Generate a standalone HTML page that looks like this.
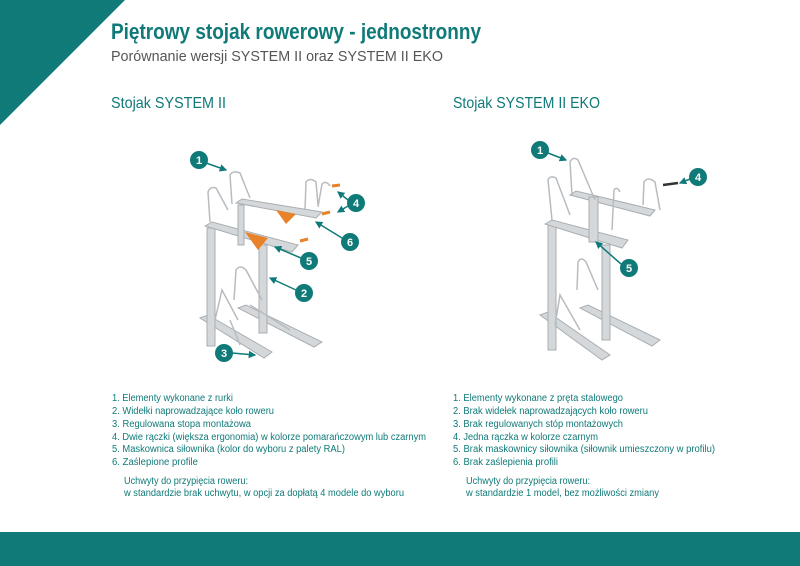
<!DOCTYPE html>
<html><head><meta charset="utf-8"><style>
html,body{margin:0;padding:0;background:#fff;width:800px;height:566px;overflow:hidden}
svg{display:block}
text{font-family:"Liberation Sans Narrow","Liberation Sans",sans-serif}
</style></head><body>
<svg width="800" height="566" viewBox="0 0 800 566" xmlns="http://www.w3.org/2000/svg">
<defs>
<marker id="a" viewBox="0 0 6 6" refX="5" refY="3" markerWidth="5" markerHeight="5" orient="auto"><path d="M0,0 L6,3 L0,6 z" fill="#0f7a78"/></marker>
</defs>
<polygon points="0,0 125,0 0,125" fill="#0f7a78"/>
<rect x="0" y="532" width="800" height="34" fill="#0f7a78"/>

<text x="111" y="39" font-size="22" font-weight="bold" fill="#0f7a78" textLength="370" lengthAdjust="spacingAndGlyphs">Piętrowy stojak rowerowy - jednostronny</text>
<text x="111" y="61" font-size="15" fill="#555" textLength="332" lengthAdjust="spacingAndGlyphs">Porównanie wersji SYSTEM II oraz SYSTEM II EKO</text>
<text x="111" y="108" font-size="16" fill="#0f7a78" textLength="115" lengthAdjust="spacingAndGlyphs">Stojak SYSTEM II</text>
<text x="453" y="108" font-size="16" fill="#0f7a78" textLength="147" lengthAdjust="spacingAndGlyphs">Stojak SYSTEM II EKO</text>

<!-- Left rack -->
<g stroke="#a9aeb2" fill="#d4d8db" stroke-width="1">
  <polygon points="200,318 208,315 272,352 264,358"/>
  <polygon points="238,308 246,305 322,342 314,347"/>
  <rect x="207" y="228" width="8" height="118"/>
  <rect x="259" y="245" width="8" height="88"/>
  <polygon points="205,226 212,222 298,245 292,252"/>
  <polygon points="236,203 242,199 322,212 316,218"/>
  <rect x="238" y="205" width="6" height="40"/>
</g>
<g stroke="#b8bcc0" fill="none" stroke-width="1.5">
  <path d="M210,222 L208,192 Q210,186 216,188 L228,210"/>
  <path d="M232,204 L230,175 Q233,170 240,173 L250,198"/>
  <path d="M305,210 L306,182 Q310,177 316,182 L318,205"/>
  <path d="M318,207 L322,184 Q326,180 330,186"/>
  <path d="M234,300 L236,270 Q240,264 246,270 L262,300"/>
  <path d="M215,320 L222,290 L238,320"/>
  <path d="M230,320 L240,345 M250,305 L290,330"/>
</g>
<polygon points="245,232 268,238 258,250" fill="#e8822a"/>
<polygon points="276,210 296,214 286,224" fill="#e8822a"/>
<g stroke="#e8822a" stroke-width="3"><line x1="300" y1="241" x2="308" y2="239"/><line x1="322" y1="214" x2="330" y2="212"/><line x1="332" y1="186" x2="340" y2="185"/></g>

<!-- Right rack -->
<g stroke="#a9aeb2" fill="#d4d8db" stroke-width="1">
  <polygon points="540,315 548,312 610,355 602,360"/>
  <polygon points="580,308 588,305 660,340 652,346"/>
  <rect x="548" y="225" width="8" height="125"/>
  <rect x="602" y="245" width="8" height="95"/>
  <polygon points="545,224 552,220 628,240 622,248"/>
  <polygon points="570,195 576,191 655,210 650,216"/>
  <rect x="589" y="197" width="9" height="45"/>
</g>
<g stroke="#b8bcc0" fill="none" stroke-width="1.5">
  <path d="M552,220 L548,180 Q550,175 556,178 L570,215"/>
  <path d="M572,195 L570,162 Q573,156 578,160 L595,200"/>
  <path d="M643,205 L644,182 Q648,176 655,182 L660,210"/>
  <path d="M612,230 L614,190 Q617,186 620,192"/>
  <path d="M577,290 L578,262 Q581,256 586,262 L598,290"/>
  <path d="M555,325 L560,295 L580,330"/>
</g>
<line x1="663" y1="185" x2="678" y2="183" stroke="#333" stroke-width="2.5"/>

<!-- callouts -->
<g stroke="#0f7a78" stroke-width="1.5" fill="none" marker-end="url(#a)">
  <line x1="206" y1="163" x2="226" y2="170"/>
  <line x1="296" y1="290" x2="270" y2="278"/>
  <line x1="232" y1="353" x2="255" y2="355"/>
  <line x1="348" y1="200" x2="338" y2="192"/><line x1="348" y1="206" x2="338" y2="212"/>
  <line x1="301" y1="258" x2="275" y2="247"/>
  <line x1="342" y1="238" x2="316" y2="222"/>
  <line x1="548" y1="153" x2="566" y2="160"/>
  <line x1="690" y1="179" x2="680" y2="183"/>
  <line x1="621" y1="264" x2="596" y2="242"/>
</g>
<g fill="#0f7a78">
  <circle cx="199" cy="160" r="9"/><circle cx="304" cy="293" r="9"/><circle cx="224" cy="353" r="9"/>
  <circle cx="356" cy="203" r="9"/><circle cx="309" cy="261" r="9"/><circle cx="350" cy="242" r="9"/>
  <circle cx="540" cy="150" r="9"/><circle cx="698" cy="177" r="9"/><circle cx="629" cy="268" r="9"/>
</g>
<g fill="#fff" font-size="11" font-weight="bold" text-anchor="middle">
  <text x="199" y="164">1</text><text x="304" y="297">2</text><text x="224" y="357">3</text>
  <text x="356" y="207">4</text><text x="309" y="265">5</text><text x="350" y="246">6</text>
  <text x="540" y="154">1</text><text x="698" y="181">4</text><text x="629" y="272">5</text>
</g>

<!-- lists -->
<g fill="#0f7a78" font-size="10">
  <text x="112" y="401" textLength="121" lengthAdjust="spacingAndGlyphs">1.  Elementy wykonane z rurki</text>
  <text x="112" y="414" textLength="162" lengthAdjust="spacingAndGlyphs">2.  Widełki naprowadzające koło roweru</text>
  <text x="112" y="427" textLength="139" lengthAdjust="spacingAndGlyphs">3.  Regulowana stopa montażowa</text>
  <text x="112" y="440" textLength="314" lengthAdjust="spacingAndGlyphs">4.  Dwie rączki (większa ergonomia) w kolorze pomarańczowym lub czarnym</text>
  <text x="112" y="452" textLength="233" lengthAdjust="spacingAndGlyphs">5.  Maskownica siłownika (kolor do wyboru z palety RAL)</text>
  <text x="112" y="465" textLength="86" lengthAdjust="spacingAndGlyphs">6.  Zaślepione profile</text>
  <text x="124" y="484" textLength="124" lengthAdjust="spacingAndGlyphs">Uchwyty do przypięcia roweru:</text>
  <text x="124" y="496" textLength="280" lengthAdjust="spacingAndGlyphs">w standardzie brak uchwytu, w opcji za dopłatą 4 modele do wyboru</text>

  <text x="453" y="401" textLength="170" lengthAdjust="spacingAndGlyphs">1.  Elementy wykonane z pręta stalowego</text>
  <text x="453" y="414" textLength="195" lengthAdjust="spacingAndGlyphs">2.  Brak widełek naprowadzających koło roweru</text>
  <text x="453" y="427" textLength="170" lengthAdjust="spacingAndGlyphs">3.  Brak regulowanych stóp montażowych</text>
  <text x="453" y="440" textLength="145" lengthAdjust="spacingAndGlyphs">4.  Jedna rączka w kolorze czarnym</text>
  <text x="453" y="452" textLength="262" lengthAdjust="spacingAndGlyphs">5.  Brak maskownicy siłownika (siłownik umieszczony w profilu)</text>
  <text x="453" y="465" textLength="105" lengthAdjust="spacingAndGlyphs">6.  Brak zaślepienia profili</text>
  <text x="466" y="484" textLength="124" lengthAdjust="spacingAndGlyphs">Uchwyty do przypięcia roweru:</text>
  <text x="466" y="496" textLength="193" lengthAdjust="spacingAndGlyphs">w standardzie 1 model, bez możliwości zmiany</text>
</g>
</svg>
</body></html>
